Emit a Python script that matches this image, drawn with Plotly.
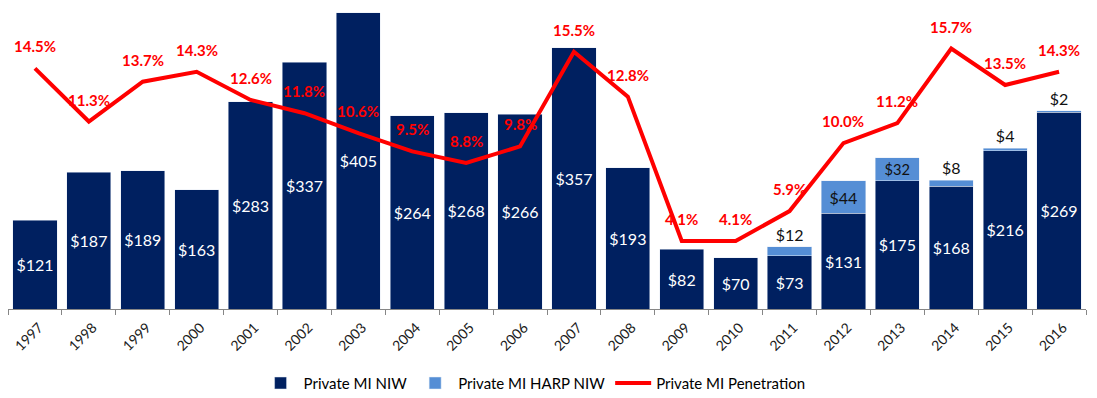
import plotly.graph_objects as go

years = ["1997", "1998", "1999", "2000", "2001", "2002", "2003", "2004", "2005", "2006",
         "2007", "2008", "2009", "2010", "2011", "2012", "2013", "2014", "2015", "2016"]
niw = [121, 187, 189, 163, 283, 337, 405, 264, 268, 266,
       357, 193, 82, 70, 73, 131, 175, 168, 216, 269]
harp = [None, None, None, None, None, None, None, None, None, None,
        None, None, None, None, 12, 44, 32, 8, 4, 2]
penetration = [14.5, 11.3, 13.7, 14.3, 12.6, 11.8, 10.6, 9.5, 8.8, 9.8,
               15.5, 12.8, 4.1, 4.1, 5.9, 10.0, 11.2, 15.7, 13.5, 14.3]

NAVY = "#002060"
LIGHT = "#558ED5"
RED = "#FF0000"
FONT = "Lato, Open Sans, sans-serif"

harp_text = [f"${v}" if v is not None else "" for v in harp]
harp_pos = ["inside" if (v is not None and v >= 30) else "outside" for v in harp]

fig = go.Figure()
fig.add_trace(go.Bar(
    x=years, y=niw, name="Private MI NIW", marker_color=NAVY,
    text=[f"${v}" for v in niw], textposition="inside", insidetextanchor="middle",
    textfont=dict(color="white", size=16, family=FONT), yaxis="y",
    cliponaxis=False,
))
fig.add_trace(go.Bar(
    x=years, y=harp, name="Private MI HARP NIW", marker_color=LIGHT,
    text=harp_text, textposition=harp_pos, insidetextanchor="middle",
    textfont=dict(color="#111111", size=16, family=FONT), yaxis="y",
    cliponaxis=False,
))
fig.add_trace(go.Scatter(
    x=years, y=penetration, name="Private MI Penetration", mode="lines",
    line=dict(color=RED, width=4), yaxis="y2", cliponaxis=False,
))

for i, p in enumerate(penetration):
    fig.add_annotation(
        x=i, xref="x", y=p, yref="y2", text=f"{p:.1f}%", showarrow=False,
        yshift=22, font=dict(color=RED, size=15, family=FONT, weight="bold"),
    )

# page body has an 8px default margin, so the figure is sized to fit the window
fig.update_layout(
    width=1089, height=390,
    margin=dict(l=0, r=11, t=4, b=89, autoexpand=False),
    paper_bgcolor="white", plot_bgcolor="white",
    barmode="stack", bargap=0.18,
    font=dict(family=FONT, size=14, color="#000000"),
    showlegend=True,
    legend=dict(orientation="h", x=0.488, xanchor="center", y=-0.25, yanchor="middle",
                font=dict(size=15, family=FONT), traceorder="normal",
                itemwidth=36),
    xaxis=dict(
        type="category", tickangle=-45, showline=True, linecolor="#868686", linewidth=1,
        ticks="outside", tickson="boundaries", ticklen=5, tickcolor="#868686",
        tickfont=dict(size=14, family=FONT, color="#1a1a1a"), showgrid=False,
        range=[-0.5, len(years) - 0.5], automargin=False,
        ticklabelshift=4, ticklabelstandoff=4,
    ),
    yaxis=dict(range=[0, 406], visible=False, showgrid=False, automargin=False),
    yaxis2=dict(range=[0, 17.9], overlaying="y", visible=False, showgrid=False,
                automargin=False),
)

fig.write_html("out.html")
